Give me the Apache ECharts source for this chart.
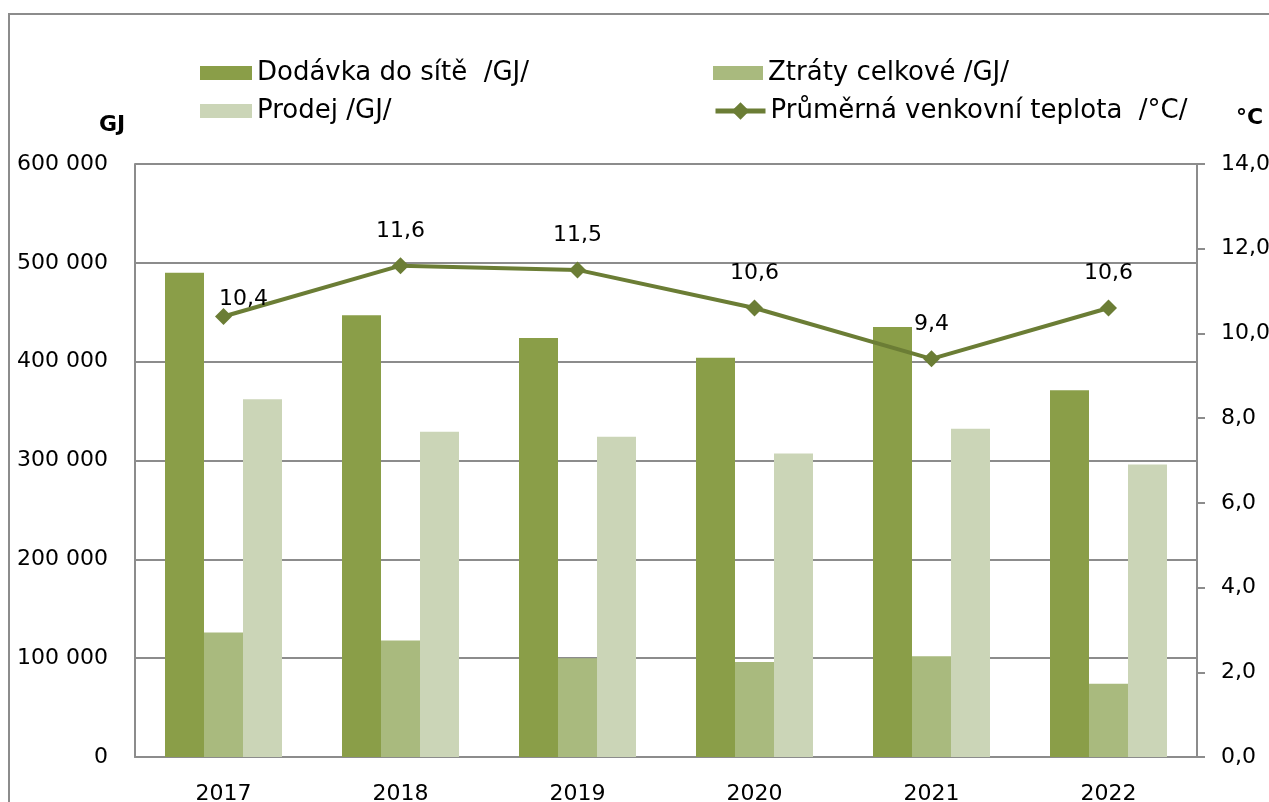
<!DOCTYPE html>
<html><head><meta charset="utf-8">
<script src="https://cdn.jsdelivr.net/npm/echarts@6/dist/echarts.min.js"></script>
<style>html,body{margin:0;padding:0;background:#fff}#c{width:1269px;height:802px}</style>
</head><body><div id="c"></div>
<script>
const categories = ['2017','2018','2019','2020','2021','2022'];
const dodavka = [490000, 447000, 424000, 404000, 435000, 371000];
const ztraty = [126000, 118000, 100000, 96000, 102000, 74000];
const prodej = [362000, 329000, 324000, 307000, 332000, 296000];
const teplota = [10.4, 11.6, 11.5, 10.6, 9.4, 10.6];
const names = ['Dodávka do sítě  /GJ/', 'Ztráty celkové /GJ/', 'Prodej /GJ/', 'Průměrná venkovní teplota  /°C/'];

const FONT = 'DejaVu Sans';
const grayLine = '#8c8c8c';
const lineColor = '#6b7d35';
function legendAt(name, left, top, extra) {
  return Object.assign({
    left: left, top: top, padding: 0, itemWidth: 52, itemHeight: 14, itemGap: 0,
    textStyle: {fontSize: 26, color: '#000', fontFamily: FONT, padding: [0, 0, 0, 0]},
    data: [{name: name, icon: 'rect'}]
  }, extra || {});
}
const chart = echarts.init(document.getElementById('c'));
chart.setOption({
  animation: false,
  textStyle: {fontFamily: FONT},
  graphic: [{
    type: 'polyline', shape: {points: [[9, 820], [9, 14], [1290, 14]]},
    style: {stroke: grayLine, lineWidth: 2, fill: null}
  }, {
    type: 'text', left: 99, top: 114, style: {text: 'GJ', font: 'bold 22px ' + FONT, fill: '#000'}
  }, {
    type: 'text', left: 1236, top: 107, style: {text: '°C', font: 'bold 22px ' + FONT, fill: '#000'}
  }],
  legend: [
    legendAt(names[0], 200, 60),
    legendAt(names[2], 200, 98),
    legendAt(names[1], 713, 60, {itemWidth: 50}),
    legendAt(names[3], 713, 98, {itemWidth: 50, itemHeight: 22,
      data: [{name: names[3]}],
      lineStyle: {width: 5}})
  ],
  grid: {left: 135, right: 72, top: 164, bottom: 45, containLabel: false, outerBoundsMode: 'none'},
  xAxis: {
    type: 'category', data: categories,
    axisLine: {lineStyle: {color: grayLine, width: 2}},
    axisTick: {show: false},
    axisLabel: {fontSize: 22, color: '#000', margin: 26}
  },
  yAxis: [{
    type: 'value', min: 0, max: 600000, interval: 100000,
    axisLine: {show: true, lineStyle: {color: grayLine, width: 2}},
    axisTick: {show: false},
    splitLine: {lineStyle: {color: grayLine, width: 2}},
    axisLabel: {fontSize: 22, color: '#000', margin: 27,
      formatter: v => v === 0 ? '0' : String(v).replace(/\B(?=(\d{3})+(?!\d))/g, ' ')}
  }, {
    type: 'value', min: 0, max: 14, interval: 2, position: 'right',
    axisLine: {show: true, lineStyle: {color: grayLine, width: 2}},
    axisTick: {show: true, length: 8, lineStyle: {color: grayLine, width: 2}},
    splitLine: {show: false},
    axisLabel: {fontSize: 22, color: '#000', margin: 24, formatter: v => v.toFixed(1).replace('.', ',')}
  }],
  series: [{
    name: names[0], type: 'bar', data: dodavka, barWidth: 39, barGap: '0%', barCategoryGap: '33%',
    itemStyle: {color: '#8a9e48'}
  }, {
    name: names[1], type: 'bar', data: ztraty, barWidth: 39, barGap: '0%',
    itemStyle: {color: '#a9ba7e'}
  }, {
    name: names[2], type: 'bar', data: prodej, barWidth: 39, barGap: '0%',
    itemStyle: {color: '#cbd5b7'}
  }, {
    name: names[3], type: 'line', yAxisIndex: 1,
    data: teplota.map((v, i) => i === 0 ? {value: v, label: {offset: [20, 17]}} : v),
    symbol: 'diamond', symbolSize: 17,
    lineStyle: {color: lineColor, width: 4},
    itemStyle: {color: lineColor},
    label: {show: true, position: 'top', distance: 15, fontSize: 22, color: '#000',
      formatter: p => p.value.toFixed(1).replace('.', ',')},
    z: 5
  }]
});
</script></body></html>
